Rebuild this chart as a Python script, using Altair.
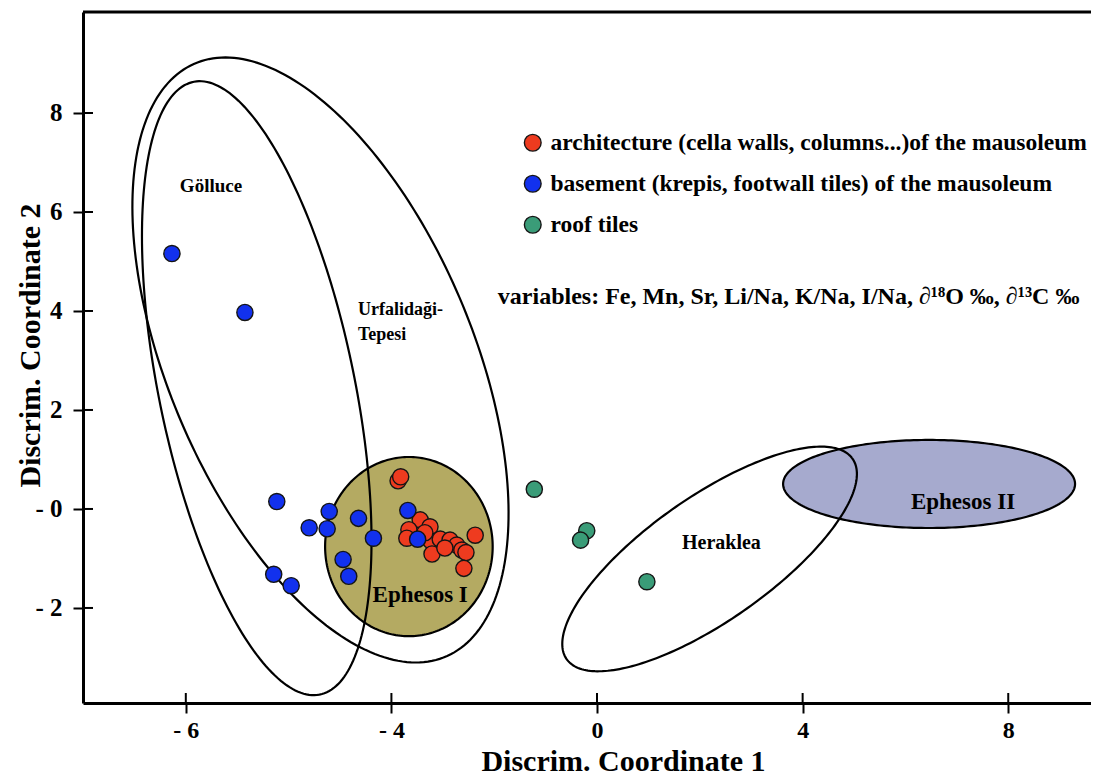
import numpy as np
import pandas as pd
import altair as alt

# ---------------- data ----------------
group_labels = [
    "architecture (cella walls, columns...)of the mausoleum",
    "basement (krepis, footwall tiles) of the mausoleum",
    "roof tiles",
]
group_colors = ["#ee3b1f", "#1231ee", "#3a9c78"]

red_x = [-3.87, -3.82, -3.44, -3.25, -3.66, -3.70, -3.23, -3.05, -3.21, -3.35,
         -2.86, -2.73, -2.63, -2.55, -2.96, -2.59, -2.37]
red_y = [0.57, 0.65, -0.22, -0.36, -0.42, -0.59, -0.65, -0.61, -0.91, -0.48,
         -0.63, -0.73, -0.83, -0.88, -0.79, -1.20, -0.53]

blue_x = [-8.27, -6.85, -6.23, -5.21, -5.60, -5.25, -4.64, -4.35, -4.94, -4.83,
          -6.29, -5.95, -3.68, -3.49]
blue_y = [5.16, 3.97, 0.15, -0.05, -0.38, -0.40, -0.19, -0.59, -1.02, -1.36,
          -1.32, -1.55, -0.03, -0.61]

green_x = [-1.22, -0.20, -0.32, 0.97]
green_y = [0.40, -0.44, -0.63, -1.47]

# group ellipses: centre, semi-axes, rotation (deg), fill
ell_names = ["Gölluce", "Urfalidaği-Tepesi", "Ephesos I", "Heraklea", "Ephesos II"]
ell_cx = [-6.62, -5.38, -3.66, 2.19, 6.46]
ell_cy = [2.44, 3.01, -0.76, -1.01, 0.505]
ell_a = [6.31, 6.47, 1.63, 3.44, 2.84]
ell_b = [1.906, 2.98, 1.81, 1.237, 0.89]
ell_angle = [-78.85, -68.3, 0.0, 36.35, 0.0]
ell_fill = ["", "", "#b4aa62", "", "#a6aace"]

# text annotations
ann_text = ["Gölluce", "Urfalidaği-", "Tepesi", "Ephesos I", "Heraklea", "Ephesos II",
            "variables: Fe, Mn, Sr, Li/Na, K/Na, I/Na, \u2202\u00b9\u2078O \u2030, \u2202\u00b9\u00b3C \u2030"]
ann_x = [-7.51, -4.65, -4.65, -3.44, 2.42, 7.12, -1.93]
ann_y = [6.53, 4.02, 3.52, -1.74, -0.69, 0.14, 4.28]
ann_align = ["center", "left", "left", "center", "center", "center", "left"]
ann_size = [19, 18, 18, 23, 20, 23, 24]

x_tick_values = [-8, -4, 0, 4, 8]
x_tick_labels = ["- 6", "- 4", "0", "4", "8"]
y_tick_values = [-2, 0, 2, 4, 6, 8]
y_tick_labels = ["- 2", "- 0", "2", "4", "6", "8"]

x_domain = [-10.0, 9.61]
y_domain = [-3.92, 10.04]

W, H = 1008, 691
FONT = "Liberation Serif"


def label_expr(values, labels):
    expr = "''"
    for v, l in zip(reversed(values), reversed(labels)):
        expr = f"datum.value == {v} ? '{l}' : ({expr})"
    return expr


# ---------------- tables ----------------
pts = pd.DataFrame({
    "x": red_x + blue_x + green_x,
    "y": red_y + blue_y + green_y,
    "group": [group_labels[0]] * len(red_x) + [group_labels[1]] * len(blue_x)
             + [group_labels[2]] * len(green_x),
})
pts["i"] = range(len(pts))

rows = []
t = np.linspace(0, 2 * np.pi, 241)
for k, name in enumerate(ell_names):
    phi = np.deg2rad(ell_angle[k])
    ex = ell_cx[k] + ell_a[k] * np.cos(t) * np.cos(phi) - ell_b[k] * np.sin(t) * np.sin(phi)
    ey = ell_cy[k] + ell_a[k] * np.cos(t) * np.sin(phi) + ell_b[k] * np.sin(t) * np.cos(phi)
    for j in range(len(t)):
        rows.append({"name": name, "x": ex[j], "y": ey[j], "o": j})
outline = pd.DataFrame(rows)

frows = []
th = np.linspace(0, np.pi, 181)
for k, name in enumerate(ell_names):
    if ell_fill[k]:
        for j in range(len(th)):
            frows.append({"name": name, "x": ell_cx[k] + ell_a[k] * np.cos(th[j]),
                          "lo": ell_cy[k] - ell_b[k] * np.sin(th[j]),
                          "hi": ell_cy[k] + ell_b[k] * np.sin(th[j])})
fills = pd.DataFrame(frows)

ann = pd.DataFrame({"t": ann_text, "x": ann_x, "y": ann_y, "al": ann_align, "fs": ann_size})

xs = alt.Scale(domain=x_domain, nice=False, zero=False)
ys = alt.Scale(domain=y_domain, nice=False, zero=False)

x_axis = alt.Axis(values=x_tick_values, labelExpr=label_expr(x_tick_values, x_tick_labels),
                  grid=False, tickSize=10, tickWidth=2, tickColor="black",
                  domainWidth=3, domainColor="black", labelFontSize=24, labelPadding=5,
                  labelColor="black", title="Discrim. Coordinate 1", titleFontSize=30,
                  titleX=540, titleY=58, titleBaseline="middle", titleAlign="center",
                  titleColor="black")
y_axis = alt.Axis(values=y_tick_values, labelExpr=label_expr(y_tick_values, y_tick_labels),
                  grid=False, tickSize=10, tickWidth=2, tickColor="black",
                  domainWidth=3, domainColor="black", labelFontSize=25, labelPadding=11,
                  labelColor="black", title="Discrim. Coordinate 2", titleFontSize=30,
                  titleX=-53, titleY=333, titleBaseline="middle", titleAlign="center",
                  titleAngle=270, titleColor="black")

# filled ellipses
fill_layer = alt.Chart(fills).mark_area(orient="vertical", opacity=1).encode(
    x=alt.X("x:Q", scale=xs, axis=x_axis),
    y=alt.Y("lo:Q", scale=ys, axis=y_axis),
    y2="hi:Q",
    detail="name:N",
    fill=alt.Fill("name:N", scale=alt.Scale(
        domain=[n for n, f in zip(ell_names, ell_fill) if f],
        range=[f for f in ell_fill if f]), legend=None),
)

outline_layer = alt.Chart(outline).mark_line(color="black", strokeWidth=2.2).encode(
    x=alt.X("x:Q", scale=xs),
    y=alt.Y("y:Q", scale=ys),
    detail="name:N",
    order="o:Q",
)

point_layer = alt.Chart(pts).mark_circle(size=262, opacity=1, stroke="#151515",
                                         strokeWidth=1.4).encode(
    x=alt.X("x:Q", scale=xs),
    y=alt.Y("y:Q", scale=ys),
    order="i:Q",
    color=alt.Color("group:N", scale=alt.Scale(domain=group_labels, range=group_colors),
                    legend=alt.Legend(orient="none", legendX=438, legendY=119, title=None,
                                      labelFont=FONT, labelFontSize=23.5, labelFontWeight="bold",
                                      labelColor="black", symbolType="circle", symbolSize=280,
                                      symbolStrokeColor="#151515", symbolStrokeWidth=1.4,
                                      symbolOpacity=1, rowPadding=16, labelOffset=6,
                                      labelLimit=900, padding=0)),
)

text_layers = []
for al in ["left", "center"]:
    sub = ann[ann["al"] == al]
    text_layers.append(
        alt.Chart(sub).mark_text(align=al, baseline="middle", font=FONT,
                                 fontWeight="bold", color="black").encode(
            x=alt.X("x:Q", scale=xs),
            y=alt.Y("y:Q", scale=ys),
            text="t:N",
            size=alt.Size("fs:Q", scale=None, legend=None),
        )
    )

yt = pd.DataFrame({"v": y_tick_values})
xt = pd.DataFrame({"v": x_tick_values})
ytick_in = alt.Chart(yt).mark_rule(color="black", strokeWidth=2).encode(
    y=alt.Y("v:Q", scale=ys), x=alt.value(0), x2=alt.value(10))
xtick_in = alt.Chart(xt).mark_rule(color="black", strokeWidth=2).encode(
    x=alt.X("v:Q", scale=xs), y=alt.value(H), y2=alt.value(H - 10))
top_border = alt.Chart(yt.head(1)).mark_rule(color="black", strokeWidth=3).encode(
    x=alt.value(0), x2=alt.value(W), y=alt.value(0))

chart = alt.layer(fill_layer, outline_layer, point_layer, *text_layers,
                  ytick_in, xtick_in, top_border).properties(
    width=W, height=H,
    autosize=alt.AutoSizeParams(type="none"),
    padding={"left": 75, "top": 4, "right": 0, "bottom": 72},
).configure_view(stroke=None).configure_axis(
    labelFont=FONT, titleFont=FONT, labelFontWeight="bold", titleFontWeight="bold"
)

chart.save("out.html", embed_options={"renderer": "svg", "actions": False})
